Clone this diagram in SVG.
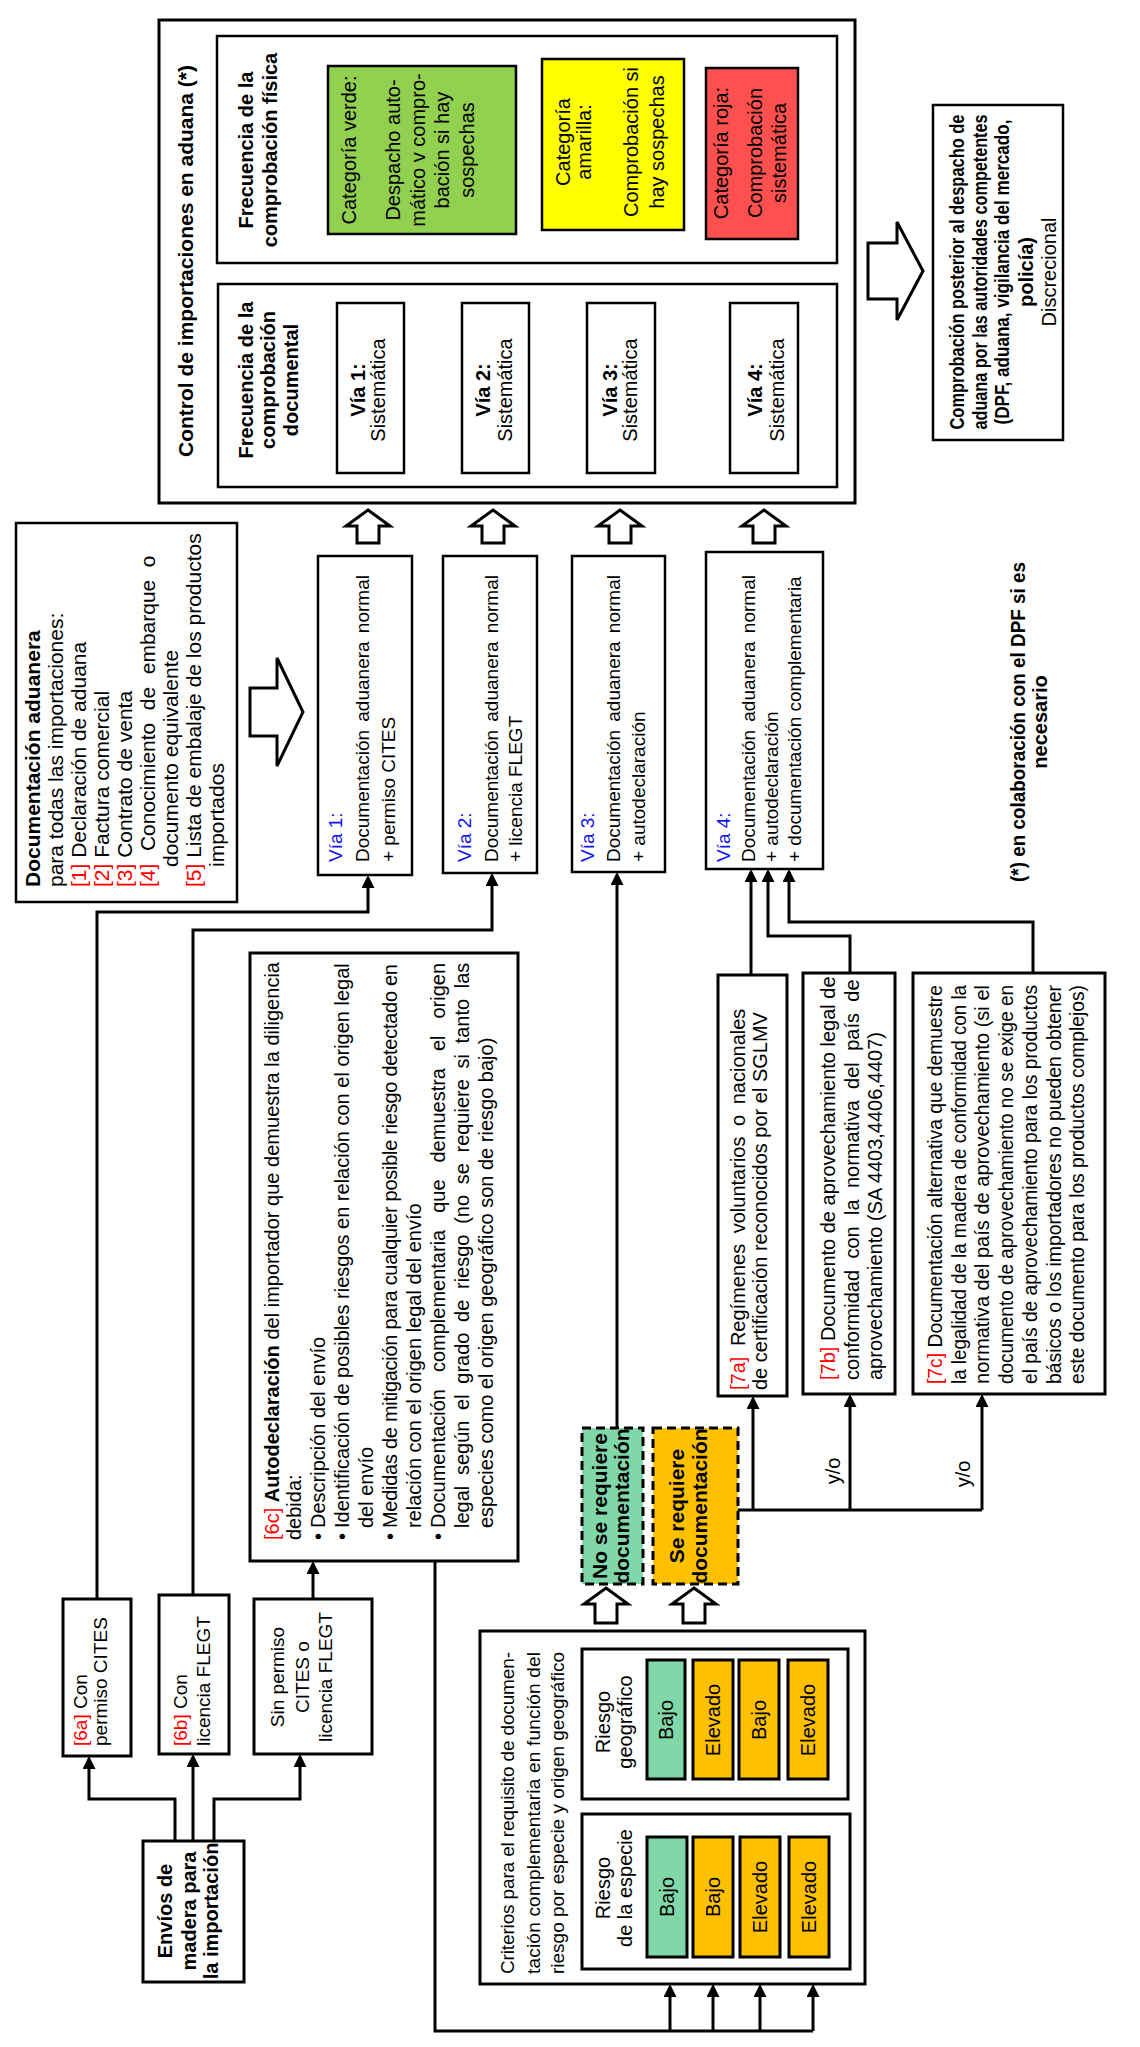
<svg xmlns="http://www.w3.org/2000/svg" width="1140" height="2047" viewBox="0 0 1140 2047">
<defs>
<style>
.b{fill:#fff;stroke:#000;stroke-width:2.5}
.b3{fill:#fff;stroke:#000;stroke-width:3}
.t{font-family:"Liberation Sans",Arial,Helvetica,sans-serif;font-size:20px;fill:#000}
.bd{font-weight:bold}
.m{text-anchor:middle}
.r{fill:#f00}
.bl{fill:#1414f0}
.c{fill:none;stroke:#000;stroke-width:3}
.ca{fill:none;stroke:#000;stroke-width:3;marker-end:url(#ah)}
.ha{fill:#fff;stroke:#000;stroke-width:3;stroke-linejoin:miter}
.dsh{stroke:#000;stroke-width:3;stroke-dasharray:9 5}
.bar{stroke:#000;stroke-width:3}
.gr{fill:#80D7A8}
.or{fill:#FFC000}
</style>
<marker id="ah" viewBox="0 0 13 13" refX="10" refY="6.5" markerWidth="13" markerHeight="13" markerUnits="userSpaceOnUse" orient="auto"><path d="M0,0 L13,6.5 L0,13 z" fill="#000"/></marker>
</defs>
<rect width="1140" height="2047" fill="#fff"/>

<g id="control">
<rect class="b3" x="159" y="20" width="696" height="483"/>
<text class="t bd m" style="font-size:21px" transform="translate(193,261) rotate(-90)">Control de importaciones en aduana (*)</text>
</g>

<g id="fisica">
<rect class="b" x="217" y="36" width="620" height="227"/>
<g class="t bd m" transform="translate(253,150) rotate(-90)"><text>Frecuencia de la</text><text y="24">comprobación física</text></g>
</g>
<g id="verde">
<rect class="b" x="328" y="66" width="188" height="168" style="fill:#92D050"/>
<g class="t m" transform="translate(356,150) rotate(-90)"><text>Categoría verde:</text><text y="44">Despacho auto-</text><text y="69">mático v compro-</text><text y="93">bación si hay</text><text y="118">sospechas</text></g>
</g>
<g id="amarilla">
<rect class="b" x="542" y="59" width="142" height="171" style="fill:#FFFF00"/>
<g class="t m" transform="translate(570,142) rotate(-90)"><text>Categoría</text><text y="21">amarilla:</text><text y="68">Comprobación si</text><text y="94">hay sospechas</text></g>
</g>
<g id="roja">
<rect class="b" x="706" y="68" width="92" height="171" style="fill:#FF5050"/>
<g class="t m" transform="translate(728,153) rotate(-90)"><text>Categoría roja:</text><text y="34">Comprobación</text><text y="58">sistemática</text></g>
</g>

<g id="documental">
<rect class="b" x="218" y="284" width="619" height="203"/>
<g class="t bd m" transform="translate(253,380) rotate(-90)"><text>Frecuencia de la</text><text y="22">comprobación</text><text y="45">documental</text></g>
</g>
<g id="via1s"><rect class="b" x="337" y="303" width="67" height="170"/><g class="t m" transform="translate(365,390) rotate(-90)"><text font-weight="bold">Vía 1:</text><text y="20">Sistemática</text></g></g>
<g id="via2s"><rect class="b" x="462" y="303" width="67" height="170"/><g class="t m" transform="translate(490,390) rotate(-90)"><text font-weight="bold">Vía 2:</text><text y="22">Sistemática</text></g></g>
<g id="via3s"><rect class="b" x="587" y="303" width="68" height="170"/><g class="t m" transform="translate(617,390) rotate(-90)"><text font-weight="bold">Vía 3:</text><text y="20">Sistemática</text></g></g>
<g id="via4s"><rect class="b" x="730" y="303" width="68" height="170"/><g class="t m" transform="translate(762,390) rotate(-90)"><text font-weight="bold">Vía 4:</text><text y="22">Sistemática</text></g></g>

<g id="dpf">
<rect class="b" x="933" y="105" width="130" height="335"/>
<g class="t m" transform="translate(964,272) rotate(-90)">
<text font-weight="bold" textLength="315" lengthAdjust="spacingAndGlyphs">Comprobación posterior al despacho de</text>
<text y="23" font-weight="bold" textLength="315" lengthAdjust="spacingAndGlyphs">aduana por las autoridades competentes</text>
<text y="45" font-weight="bold" textLength="305" lengthAdjust="spacingAndGlyphs">(DPF, aduana, vigilancia del mercado,</text>
<text y="69" font-weight="bold">policía)</text>
<text y="92">Discrecional</text>
</g>
</g>

<g id="nota">
<g class="t bd m" transform="translate(1025,722) rotate(-90)"><text textLength="320" lengthAdjust="spacingAndGlyphs">(*) en colaboración con el DPF si es</text><text y="22">necesario</text></g>
</g>

<g id="docs">
<rect class="b" x="16" y="523" width="221" height="379"/>
<g class="t" style="font-size:21px" transform="translate(40,887) rotate(-90)">
<text font-weight="bold">Documentación aduanera</text>
<text y="23">para todas las importaciones:</text>
<text y="46"><tspan class="r">[1]</tspan> Declaración de aduana</text>
<text y="69"><tspan class="r">[2]</tspan> Factura comercial</text>
<text y="92"><tspan class="r">[3]</tspan> Contrato de venta</text>
<text y="115" style="word-spacing:6.7px"><tspan class="r">[4]</tspan> Conocimiento de embarque o</text>
<text x="20" y="138">documento equivalente</text>
<text y="161"><tspan class="r">[5]</tspan> Lista de embalaje de los productos</text>
<text x="20" y="184">importados</text>
</g>
</g>

<g id="via1">
<rect class="b" x="318" y="556" width="94" height="319"/>
<g class="t" style="font-size:19px" transform="translate(342,862) rotate(-90)"><text class="bl">Vía 1:</text><text y="27" style="word-spacing:3px">Documentación aduanera normal</text><text y="53">+ permiso CITES</text></g>
</g>
<g id="via2">
<rect class="b" x="443" y="556" width="94" height="317"/>
<g class="t" style="font-size:19px" transform="translate(471,862) rotate(-90)"><text class="bl">Vía 2:</text><text y="27" style="word-spacing:3px">Documentación aduanera normal</text><text y="51">+ licencia FLEGT</text></g>
</g>
<g id="via3">
<rect class="b" x="572" y="556" width="93" height="316"/>
<g class="t" style="font-size:19px" transform="translate(594,862) rotate(-90)"><text class="bl">Vía 3:</text><text y="26" style="word-spacing:3px">Documentación aduanera normal</text><text y="51">+ autodeclaración</text></g>
</g>
<g id="via4">
<rect class="b" x="706" y="552" width="117" height="317"/>
<g class="t" style="font-size:19px" transform="translate(730,862) rotate(-90)"><text class="bl">Vía 4:</text><text y="25" style="word-spacing:3px">Documentación aduanera normal</text><text y="48">+ autodeclaración</text><text y="71">+ documentación complementaria</text></g>
</g>

<g id="envios">
<rect class="b3" x="143" y="1841" width="101" height="141"/>
<g class="t bd m" transform="translate(172,1911) rotate(-90)"><text>Envíos de</text><text y="24">madera para</text><text y="46">la importación</text></g>
</g>
<g id="n6a">
<rect class="b3" x="63" y="1599" width="68" height="157"/>
<g class="t" style="font-size:19px" transform="translate(87,1746) rotate(-90)"><text><tspan class="r">[6a]</tspan> Con</text><text y="20">permiso CITES</text></g>
</g>
<g id="n6b">
<rect class="b3" x="159" y="1595" width="70" height="159"/>
<g class="t" style="font-size:19px" transform="translate(187,1746) rotate(-90)"><text><tspan class="r">[6b]</tspan> Con</text><text y="23">licencia FLEGT</text></g>
</g>
<g id="sin">
<rect class="b3" x="254" y="1599" width="118" height="155"/>
<g class="t m" style="font-size:19px" transform="translate(284,1677) rotate(-90)"><text>Sin permiso</text><text y="25">CITES o</text><text y="48">licencia FLEGT</text></g>
</g>

<g id="n6c">
<rect class="b3" x="250" y="953" width="268" height="608"/>
<g class="t" transform="translate(279,1540) rotate(-90)">
<text textLength="578" lengthAdjust="spacing"><tspan class="r">[6c]</tspan> <tspan font-weight="bold">Autodeclaración</tspan> del importador que demuestra la diligencia</text>
<text y="22">debida:</text>
<text y="46">•</text><text x="12" y="46">Descripción del envío</text>
<text y="70">•</text><text x="12" y="70">Identificación de posibles riesgos en relación con el origen legal</text>
<text x="12" y="94">del envío</text>
<text y="118">•</text><text x="12" y="118" textLength="564" lengthAdjust="spacing">Medidas de mitigación para cualquier posible riesgo detectado en</text>
<text x="12" y="142">relación con el origen legal del envío</text>
<text y="166">•</text><text x="12" y="166" style="word-spacing:11.4px">Documentación complementaria que demuestra el origen</text>
<text x="12" y="190" style="word-spacing:5.1px">legal según el grado de riesgo (no se requiere si tanto las</text>
<text x="12" y="214">especies como el origen geográfico son de riesgo bajo)</text>
</g>
</g>

<g id="n7a">
<rect class="b3" x="718" y="975" width="69" height="421"/>
<g class="t" transform="translate(745,1390) rotate(-90)"><text style="word-spacing:5px"><tspan class="r">[7a]</tspan> Regímenes voluntarios o nacionales</text><text y="22">de certificación reconocidos por el SGLMV</text></g>
</g>
<g id="n7b">
<rect class="b3" x="803" y="973" width="92" height="421"/>
<g class="t" transform="translate(835,1380) rotate(-90)"><text><tspan class="r">[7b]</tspan> Documento de aprovechamiento legal de</text><text y="24" style="word-spacing:5.8px">conformidad con la normativa del país de</text><text y="47">aprovechamiento (SA 4403,4406,4407)</text></g>
</g>
<g id="n7c">
<rect class="b3" x="913" y="973" width="192" height="421"/>
<g class="t" transform="translate(942,1384) rotate(-90)">
<text textLength="399" lengthAdjust="spacingAndGlyphs"><tspan class="r">[7c]</tspan> Documentación alternativa que demuestre</text>
<text y="23.7" textLength="399" lengthAdjust="spacingAndGlyphs">la legalidad de la madera de conformidad con la</text>
<text y="47.4" textLength="399" lengthAdjust="spacingAndGlyphs">normativa del país de aprovechamiento (si el</text>
<text y="71.1" textLength="399" lengthAdjust="spacingAndGlyphs">documento de aprovechamiento no se exige en</text>
<text y="94.8" textLength="399" lengthAdjust="spacingAndGlyphs">el país de aprovechamiento para los productos</text>
<text y="118.5" textLength="399" lengthAdjust="spacingAndGlyphs">básicos o los importadores no pueden obtener</text>
<text y="142.2" textLength="399" lengthAdjust="spacingAndGlyphs">este documento para los productos complejos)</text>
</g>
</g>

<g id="noreq">
<rect class="dsh gr" x="582" y="1428" width="61" height="156"/>
<g class="t bd m" style="font-size:21px" transform="translate(607,1506) rotate(-90)"><text>No se requiere</text><text y="22">documentación</text></g>
</g>
<g id="sireq">
<rect class="dsh or" x="653" y="1428" width="85" height="156"/>
<g class="t bd m" style="font-size:21px" transform="translate(684,1506) rotate(-90)"><text>Se requiere</text><text y="23">documentación</text></g>
</g>

<g id="criterios">
<rect class="b3" x="480" y="1631" width="385" height="353"/>
<g class="t" style="font-size:19px" transform="translate(514,1974) rotate(-90)"><text textLength="322" lengthAdjust="spacing">Criterios para el requisito de documen-</text><text y="26" textLength="322" lengthAdjust="spacing">tación complementaria en función del</text><text y="50" textLength="322" lengthAdjust="spacing">riesgo por especie y origen geográfico</text></g>
</g>
<g id="geo">
<rect class="b3" x="582" y="1649" width="266" height="150"/>
<g class="t m" transform="translate(610,1722) rotate(-90)"><text>Riesgo</text><text y="22">geográfico</text></g>
<rect class="bar gr" x="647" y="1660" width="38" height="119"/>
<rect class="bar or" x="693" y="1660" width="40" height="119"/>
<rect class="bar or" x="739" y="1660" width="40" height="119"/>
<rect class="bar or" x="788" y="1660" width="40" height="119"/>
<text class="t m" transform="translate(673,1720) rotate(-90)">Bajo</text>
<text class="t m" transform="translate(720,1720) rotate(-90)">Elevado</text>
<text class="t m" transform="translate(766,1720) rotate(-90)">Bajo</text>
<text class="t m" transform="translate(815,1720) rotate(-90)">Elevado</text>
</g>
<g id="especie">
<rect class="b3" x="582" y="1814" width="268" height="155"/>
<g class="t m" transform="translate(610,1888) rotate(-90)"><text>Riesgo</text><text y="22">de la especie</text></g>
<rect class="bar gr" x="647" y="1837" width="40" height="120"/>
<rect class="bar or" x="693" y="1837" width="40" height="120"/>
<rect class="bar or" x="740" y="1837" width="40" height="120"/>
<rect class="bar or" x="789" y="1837" width="40" height="120"/>
<text class="t m" transform="translate(674,1897) rotate(-90)">Bajo</text>
<text class="t m" transform="translate(720,1897) rotate(-90)">Bajo</text>
<text class="t m" transform="translate(767,1897) rotate(-90)">Elevado</text>
<text class="t m" transform="translate(816,1897) rotate(-90)">Elevado</text>
</g>

<g id="connectors">
<polygon class="ha" points="368,510 390,526 379,526 379,543 357,543 357,526 346,526"/>
<polygon class="ha" points="493,510 515,526 504,526 504,543 482,543 482,526 471,526"/>
<polygon class="ha" points="620,510 642,526 631,526 631,543 609,543 609,526 598,526"/>
<polygon class="ha" points="764,510 786,526 775,526 775,543 753,543 753,526 742,526"/>
<polygon class="ha" points="606,1588 628,1604 617,1604 617,1623 595,1623 595,1604 584,1604"/>
<polygon class="ha" points="694,1588 716,1604 705,1604 705,1623 683,1623 683,1604 672,1604"/>
<polygon class="ha" points="250,688 277,688 277,658 303,712 277,766 277,736 250,736"/>
<polygon class="ha" points="868,243 897,243 897,222 923,271 897,320 897,299 868,299"/>
<path class="ca" d="M175,1841 V1799 H89 V1759"/>
<path class="ca" d="M193,1841 V1757"/>
<path class="ca" d="M214,1841 V1799 H300 V1757"/>
<path class="ca" d="M97,1599 V912 H368 V878"/>
<path class="ca" d="M193,1595 V930 H492 V876"/>
<path class="ca" d="M313,1599 V1564"/>
<path class="ca" d="M617,1428 V875"/>
<path class="ca" d="M751,975 V872"/>
<path class="ca" d="M850,973 V936 H768 V872"/>
<path class="ca" d="M1033,973 V922 H789 V872"/>
<path class="c" d="M738,1510 H982"/>
<path class="ca" d="M753,1510 V1399"/>
<path class="ca" d="M850,1510 V1397"/>
<path class="ca" d="M982,1510 V1397"/>
<path class="c" d="M435,1561 V2031 H813"/>
<path class="ca" d="M670,2031 V1987"/>
<path class="ca" d="M713,2031 V1987"/>
<path class="ca" d="M760,2031 V1987"/>
<path class="ca" d="M813,2031 V1987"/>
<text class="t m" transform="translate(840,1471) rotate(-90)">y/o</text>
<text class="t m" transform="translate(970,1474) rotate(-90)">y/o</text>
</g>
</svg>
